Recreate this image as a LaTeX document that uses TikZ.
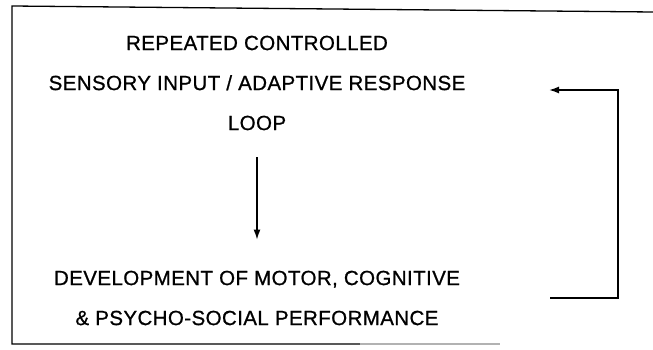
\documentclass[tikz,border=0pt]{standalone}
\usepackage{fontspec}
\setmainfont{Liberation Sans}
\usetikzlibrary{arrows.meta}

\begin{document}
\begin{tikzpicture}[x=1pt,y=-1pt,
flow/.style={draw,line width=1.3pt,-{Latex[length=10pt,width=7pt]}},
every node/.style={align=center,inner sep=0pt,
  font=\fontsize{20.5}{40}\selectfont\addfontfeature{LetterSpace=2,FakeBold=0.8}}]
\useasboundingbox (0,0) rectangle (653,350);
% open frame round the text
\draw[line width=1.3pt] (653,12) -- (12,6) -- (12,344) -- (360,344);
\draw[line width=1.3pt,gray!60] (360,344) -- (500,344);
% the two blocks of text
\node (Loop) at (257,83) {REPEATED CONTROLLED\\SENSORY INPUT / ADAPTIVE RESPONSE\\LOOP};
\node (Perf) at (257,298) {DEVELOPMENT OF MOTOR, COGNITIVE\\\& PSYCHO-SOCIAL PERFORMANCE};
\draw[flow,shorten <=27pt,shorten >=31pt] (Loop) -- (Perf);
% feedback back into the loop
\coordinate (fbFrom) at (550,298);
\coordinate (fbTo) at (549,90);
\draw[flow,line width=1.6pt] (fbFrom) -- ++(68,0) |- (fbTo);
\end{tikzpicture}
\end{document}
